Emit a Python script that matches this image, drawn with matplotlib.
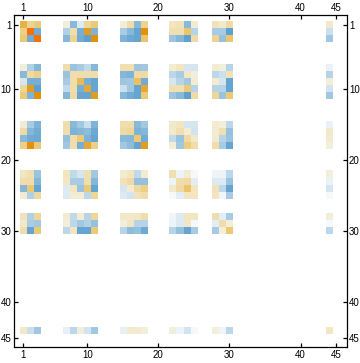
import numpy as np
import matplotlib
matplotlib.use("Agg")
from matplotlib import pyplot as plt
from matplotlib.colors import LinearSegmentedColormap

plt.rcParams['font.family'] = ['Liberation Sans', 'DejaVu Sans']

# rows/cols of the matrix that hold something, everything else stays empty
used = [1, 2, 3, 7, 8, 9, 10, 11, 15, 16, 17, 18, 22, 23, 24, 25, 28, 29, 30, 44]
ticks = [1, 10, 20, 30, 40, 45]

cells = [
    [.55, .35, .42, .10, -.40, -.10, .33, .42, .10, .28, -.40, .35, .20, .22, -.40, .12, .22, .15, .30, .15],
    [.38, .95, -.50, -.25, .28, -.48, .65, -.45, -.27, -.40, -.55, .72, .25, .25, .45, -.22, -.28, -.27, -.58, -.15],
    [.43, -.50, .95, -.42, .35, -.50, -.58, .72, -.45, -.52, -.55, .45, -.32, -.42, -.58, .30, .35, -.35, .45, -.30],
    [.10, -.25, -.42, .28, -.33, -.28, -.18, -.42, .25, .25, -.32, -.30, .12, .20, -.12, -.12, .12, .08, -.22, -.06],
    [-.40, .30, .37, -.33, .28, .28, .28, .28, -.42, -.45, .30, .30, -.20, -.27, .17, .10, -.20, -.15, .22, -.22],
    [-.12, -.48, -.48, -.28, .28, .50, -.48, -.55, -.32, -.30, .48, -.50, -.12, -.22, -.30, .12, .12, -.12, -.55, .10],
    [.33, .65, -.58, -.18, .28, -.48, .60, -.55, -.15, -.30, -.55, .60, .25, .25, .42, -.22, -.22, -.22, -.55, -.13],
    [.42, -.45, .72, -.42, .30, -.55, -.55, .65, -.42, -.50, -.55, .42, -.32, -.40, -.58, .30, .33, -.33, .42, -.30],
    [.12, -.28, -.45, .28, -.40, -.30, -.16, -.45, .28, .28, -.40, -.30, .15, .20, -.12, -.12, .14, .10, -.20, -.06],
    [.30, -.42, -.50, .28, -.45, -.42, -.38, -.52, .30, .33, -.45, -.42, .15, .25, .12, -.14, .12, .25, -.35, .15],
    [-.40, -.50, -.52, -.35, .28, .42, -.45, -.55, -.40, -.42, .42, -.50, -.18, -.33, .30, .15, .13, -.22, -.33, .13],
    [.38, .72, .42, -.30, .28, -.48, .60, .38, -.30, -.38, -.55, .65, .10, -.30, .40, .28, .28, -.28, -.55, .08],
    [.20, .25, -.33, .20, -.18, -.12, .25, -.30, .14, .20, -.18, .13, .25, -.05, .12, -.03, -.05, -.05, -.20, .08],
    [.28, .28, -.42, .18, -.27, -.27, .27, -.42, .22, .30, -.35, -.35, -.05, .28, .30, -.08, -.10, -.10, -.33, -.06],
    [-.42, .43, -.55, -.10, .20, -.33, .42, -.55, -.12, .14, .32, .38, .15, .30, .45, .20, .22, -.20, -.55, -.12],
    [.13, -.25, .32, -.10, .12, .12, -.20, .33, -.10, -.13, .22, .28, -.03, -.08, .20, .20, .20, -.04, -.28, -.03],
    [.22, -.25, .33, .13, -.18, .12, -.22, .33, .17, .15, .18, .27, -.04, -.10, .20, .18, .27, -.08, -.28, .10],
    [.15, -.27, -.30, .10, -.20, -.30, -.24, -.35, .10, .20, -.22, -.22, -.05, -.10, .18, -.03, -.08, .28, .10, -.03],
    [.28, -.55, .42, -.20, .20, -.55, -.55, .42, -.22, -.38, -.35, -.52, -.22, -.35, -.55, -.28, -.28, .10, .43, -.20],
    [.15, -.15, -.30, -.07, -.20, .10, -.13, -.30, -.07, .14, .14, .08, .08, -.05, -.13, -.03, .08, -.04, -.20, .18],
]

# blue through white to orange, like the usual matrix plot shading
cmap = LinearSegmentedColormap.from_list("bwo", [
    (0.0, "#1f6fb8"), (0.2, "#5b9fd0"), (0.3, "#8abada"), (0.4, "#bcd7e9"), (0.46, "#e3eef6"),
    (0.5, "#ffffff"), (0.54, "#f4f0de"), (0.6, "#f2e5c0"), (0.65, "#f0dba6"), (0.72, "#ebc870"),
    (0.85, "#e09410"), (1.0, "#ff6a00"),
])
cmap.set_bad("white")

grid = np.full((46, 46), np.nan)
grid[np.ix_(np.array(used) - 1, np.array(used) - 1)] = np.array(cells)

W, H = 360, 363
fig = plt.figure(figsize=(W / 100, H / 100), dpi=100)
ax = fig.add_axes([13.5 / W, 1 - 347.3 / H, (346.7 - 13.5) / W, (347.3 - 15.3) / H])
ax.imshow(grid, cmap=cmap, vmin=-1, vmax=1, extent=(0.5, 46.5, 46.5, 0.5),
          interpolation="nearest", aspect="auto")

ax.set_xlim(1 + (13.5 - 23.3) / 7.11, 1 + (346.7 - 23.3) / 7.11)
ax.set_ylim(1 + (347.3 - 25.3) / 7.107, 1 + (15.3 - 25.3) / 7.107)

ax.set_xticks(ticks)
ax.set_yticks(ticks)
ax.tick_params(direction="in", length=3.2, width=0.9, labelsize=7, pad=1.6,
               top=True, right=True, labeltop=True, labelright=True)
for s in ax.spines.values():
    s.set_linewidth(0.9)

fig.savefig("out.png", dpi=100)
